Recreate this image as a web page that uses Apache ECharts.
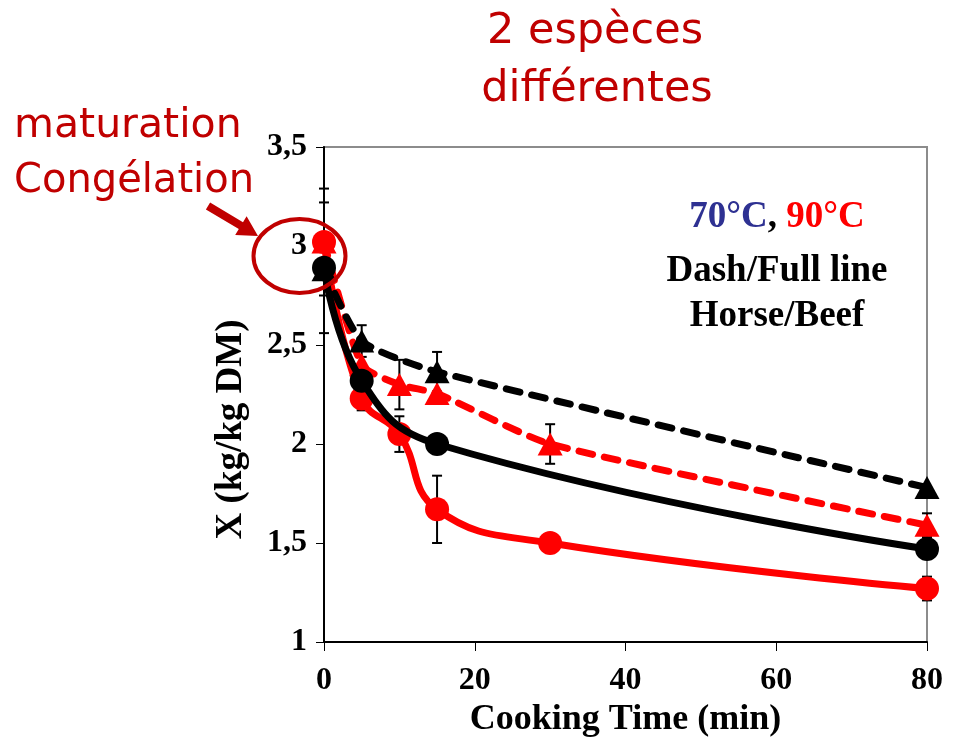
<!DOCTYPE html>
<html>
<head>
<meta charset="utf-8">
<script src="https://cdn.jsdelivr.net/npm/echarts@6/dist/echarts.min.js"></script>
<style>
  html, body { margin: 0; padding: 0; background: #ffffff; }
  #chart { width: 953px; height: 738px; }
</style>
</head>
<body>
<div id="chart"></div>
<script>
// Cooking times (min) for each set of samples
const timesBlack = [0, 5, 15, 80];
const timesRed = [0, 5, 10, 15, 30, 80];

// Moisture content X (kg/kg DM)
const horse70 = [2.88, 2.52, 2.365, 1.78];             // dashed, black triangles
const horse90 = [3.02, 2.40, 2.30, 2.255, 2.00, 1.59]; // dashed, red triangles
const beef70 = [2.89, 2.32, 2.00, 1.47];               // full line, black circles
const beef90 = [3.02, 2.23, 2.05, 1.67, 1.50, 1.27];   // full line, red circles

// Half-width of the error bars (null = none drawn)
const horse70Err = [null, 0.08, 0.10, null];
const horse90Err = [null, null, 0.125, null, 0.10, 0.06];
const beef70Err = [0.33, null, null, null];
const beef90Err = [0.27, 0.06, 0.09, 0.17, null, 0.06];

// Axis ranges
const xRange = { min: 0, max: 80, interval: 20 };
const yRange = { min: 1, max: 3.5, interval: 0.5 };

const RED = '#ff0000';
const BLACK = '#000000';
const NOTE = '#c00000';
const SERIF = '"Liberation Serif", "Times New Roman", serif';
const HAND = '"DejaVu Sans", sans-serif';

function pairs(xs, ys) {
  return xs.map((x, i) => [x, ys[i]]);
}

function errRows(xs, ys, errs) {
  const rows = [];
  xs.forEach((x, i) => {
    if (errs[i] != null) rows.push([x, ys[i] - errs[i], ys[i] + errs[i]]);
  });
  return rows;
}

const errorData = []
  .concat(errRows(timesBlack, horse70, horse70Err))
  .concat(errRows(timesRed, horse90, horse90Err))
  .concat(errRows(timesBlack, beef70, beef70Err))
  .concat(errRows(timesRed, beef90, beef90Err));

function renderErrorBar(params, api) {
  const x = api.value(0);
  const top = api.coord([x, api.value(2)]);
  const bot = api.coord([x, api.value(1)]);
  const half = 5;
  const style = { stroke: BLACK, lineWidth: 2 };
  return {
    type: 'group',
    children: [
      { type: 'line', shape: { x1: top[0], y1: top[1], x2: bot[0], y2: bot[1] }, style },
      { type: 'line', shape: { x1: top[0] - half, y1: top[1], x2: top[0] + half, y2: top[1] }, style },
      { type: 'line', shape: { x1: bot[0] - half, y1: bot[1], x2: bot[0] + half, y2: bot[1] }, style }
    ]
  };
}

function lineSeries(name, data, color, dashed, symbol, size, z) {
  return {
    name,
    type: 'line',
    data,
    smooth: dashed ? 0.2 : 0.45,
    symbol,
    symbolSize: size,
    z,
    itemStyle: { color },
    lineStyle: {
      color,
      width: 7,
      type: dashed ? [14, 12] : 'solid',
      cap: 'round'
    }
  };
}

function note(text, x, y, size) {
  return {
    type: 'text', z: 10,
    style: { text, x, y, fill: NOTE, font: size + 'px ' + HAND,
             textAlign: 'center', textVerticalAlign: 'middle' }
  };
}

function keyLine(text, y) {
  return {
    type: 'text', z: 10,
    style: { text, x: 777, y, fill: BLACK, fontFamily: SERIF, fontWeight: 'bold', fontSize: 37,
             textAlign: 'center', textVerticalAlign: 'middle' }
  };
}

const chart = echarts.init(document.getElementById('chart'));

chart.setOption({
  animation: false,
  backgroundColor: '#ffffff',
  grid: {
    left: 324, top: 147, width: 603, height: 495,
    containLabel: false,
    outerBoundsMode: 'none',
    show: true, borderColor: '#8c8c8c', borderWidth: 2, backgroundColor: 'transparent'
  },
  xAxis: {
    type: 'value',
    min: xRange.min, max: xRange.max, interval: xRange.interval,
    name: 'Cooking Time (min)',
    nameLocation: 'middle',
    nameGap: 58,
    nameTextStyle: { fontFamily: SERIF, fontWeight: 'bold', fontSize: 36, color: BLACK },
    axisLine: { lineStyle: { color: BLACK, width: 2 } },
    axisTick: { inside: false, length: 9, lineStyle: { color: BLACK, width: 1 } },
    axisLabel: { margin: 23, fontFamily: SERIF, fontWeight: 'bold', fontSize: 32, color: BLACK },
    splitLine: { show: false }
  },
  yAxis: {
    type: 'value',
    min: yRange.min, max: yRange.max, interval: yRange.interval,
    name: 'X (kg/kg DM)',
    nameLocation: 'middle',
    nameGap: 74,
    nameTextStyle: { fontFamily: SERIF, fontWeight: 'bold', fontSize: 37, color: BLACK,
                     padding: [0, 70, 0, 0] },
    axisLine: { lineStyle: { color: BLACK, width: 2 } },
    axisTick: { inside: false, length: 8, lineStyle: { color: BLACK, width: 1 } },
    axisLabel: {
      margin: 17, fontFamily: SERIF, fontWeight: 'bold', fontSize: 32, color: BLACK,
      formatter: v => String(v).replace('.', ',')
    },
    splitLine: { show: false }
  },
  series: [
    {
      name: 'error bars',
      type: 'custom',
      renderItem: renderErrorBar,
      data: errorData,
      encode: { x: 0, y: [1, 2] },
      z: 1
    },
    lineSeries('Beef 90°C', pairs(timesRed, beef90), RED, false, 'circle', 24, 2),
    lineSeries('Horse 90°C', pairs(timesRed, horse90), RED, true, 'triangle', [25, 23], 3),
    lineSeries('Horse 70°C', pairs(timesBlack, horse70), BLACK, true, 'triangle', [25, 23], 4),
    lineSeries('Beef 70°C', pairs(timesBlack, beef70), BLACK, false, 'circle', 24, 5)
  ],
  graphic: [
    // Species note above the plot
    note('2 espèces', 595, 32, 43),
    note('différentes', 597, 90, 43),
    // Sample treatment note on the left
    { type: 'text', z: 10, style: { text: 'maturation', x: 14, y: 126, fill: NOTE,
        font: '41px ' + HAND, textVerticalAlign: 'middle' } },
    { type: 'text', z: 10, style: { text: 'Congélation', x: 14, y: 182, fill: NOTE,
        font: '40px ' + HAND, textVerticalAlign: 'middle' } },
    // Arrow pointing at the initial values
    { type: 'polygon', z: 10, shape: { points: [
        [210.1, 202.6], [243, 222.3], [246.6, 216.3], [258, 236],
        [235.2, 235.1], [238.8, 229.1], [205.9, 209.4]] },
      style: { fill: NOTE } },
    // Ring around the starting point
    { type: 'ellipse', z: 10, shape: { cx: 299.5, cy: 256, rx: 46, ry: 37 },
      style: { fill: 'none', stroke: NOTE, lineWidth: 4 } },
    // Key
    { type: 'text', z: 10, style: {
        x: 777, y: 217, textAlign: 'center', textVerticalAlign: 'middle',
        rich: {
          a: { fill: '#2e3192', fontFamily: SERIF, fontWeight: 'bold', fontSize: 37 },
          b: { fill: BLACK, fontFamily: SERIF, fontWeight: 'bold', fontSize: 37 },
          c: { fill: RED, fontFamily: SERIF, fontWeight: 'bold', fontSize: 37 }
        },
        text: '{a|70°C}{b|, }{c|90°C}'
      } },
    keyLine('Dash/Full line', 271),
    keyLine('Horse/Beef', 316)
  ]
});
</script>
</body>
</html>
